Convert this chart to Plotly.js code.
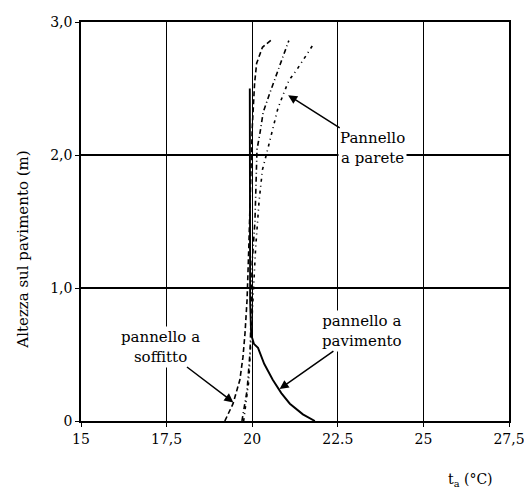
<!DOCTYPE html>
<html>
<head>
<meta charset="utf-8">
<script src="https://cdn.plot.ly/plotly-3.0.1.min.js"></script>
<style>html,body{margin:0;padding:0;background:#fff}#chart{width:524px;height:488px}</style>
</head>
<body>
<div id="chart"></div>
<script>
// Pannello a soffitto (dashed)
const soffittoT = [19.2, 19.44, 19.64, 19.73, 19.79, 19.85, 19.9, 19.95, 20.0, 20.07, 20.13, 20.3, 20.58];
const soffittoH = [0.0, 0.13, 0.31, 0.48, 0.66, 0.91, 1.3, 1.8, 2.2, 2.54, 2.69, 2.81, 2.87];
// Curva intermedia (dash-dot)
const mediaT = [19.7, 19.85, 19.94, 19.97, 20.0, 20.08, 20.14, 20.23, 20.32, 20.52, 20.72, 20.9, 21.07];
const mediaH = [0.0, 0.23, 0.53, 0.83, 1.2, 1.5, 2.04, 2.17, 2.32, 2.47, 2.62, 2.74, 2.86];
// Pannello a parete (dotted dash)
const pareteT = [19.75, 19.9, 20.0, 20.1, 20.2, 20.3, 20.46, 20.6, 20.75, 20.96, 21.07, 21.3, 21.54, 21.78];
const pareteH = [0.0, 0.3, 0.8, 1.3, 1.65, 1.89, 2.05, 2.19, 2.35, 2.49, 2.56, 2.64, 2.74, 2.83];
// Pannello a pavimento (solid)
const pavimentoT = [19.93, 19.93, 19.94, 19.97, 20.05, 20.17, 20.35, 20.6, 20.85, 21.1, 21.48, 21.83];
const pavimentoH = [2.5, 1.5, 0.9, 0.65, 0.58, 0.55, 0.43, 0.31, 0.21, 0.13, 0.05, 0.0];

const xTickVals = [15, 17.5, 20, 22.5, 25, 27.5];
const xTickText = ["15", "17,5", "20", "22.5", "25", "27,5"];
const yTickVals = [0, 1, 2, 3];
const yTickText = ["0", "1,0", "2,0", "3,0"];

const serif = "DejaVu Serif";

const traces = [
  {x: soffittoT, y: soffittoH, mode: 'lines', line: {color: '#000', width: 1.6, dash: '5px,3px'}},
  {x: mediaT, y: mediaH, mode: 'lines', line: {color: '#000', width: 1.6, dash: '5px,3px,1px,3px'}},
  {x: pareteT, y: pareteH, mode: 'lines', line: {color: '#000', width: 1.6, dash: '3px,4px,1px,4px'}},
  {x: pavimentoT, y: pavimentoH, mode: 'lines', line: {color: '#000', width: 1.9}}
];

const arrowStyle = {showarrow: true, arrowhead: 2, arrowsize: 1.2, arrowwidth: 1.5, arrowcolor: '#000',
  axref: 'x', ayref: 'y', bgcolor: '#fff', align: 'center', font: {family: serif, size: 15}};

const layout = {
  width: 524, height: 488,
  margin: {l: 81, r: 15, t: 22, b: 67},
  paper_bgcolor: '#fff', plot_bgcolor: '#fff',
  showlegend: false,
  font: {family: serif, color: '#000', size: 14},
  xaxis: {
    range: [15, 27.5], tickvals: xTickVals, ticktext: xTickText,
    showgrid: true, gridcolor: '#000', gridwidth: 1.2,
    showline: true, mirror: true, linecolor: '#000', linewidth: 1.8,
    ticks: 'outside', ticklen: 4, tickcolor: '#000', ticklabeloverflow: 'allow',
    zeroline: false, tickfont: {family: serif, size: 14}
  },
  yaxis: {
    range: [0, 3], tickvals: yTickVals, ticktext: yTickText,
    showgrid: true, gridcolor: '#000', gridwidth: 1.2,
    showline: true, mirror: true, linecolor: '#000', linewidth: 1.8,
    ticks: 'outside', ticklen: 4, tickcolor: '#000',
    zeroline: false, tickfont: {family: serif, size: 14}
  },
  annotations: [
    {xref: 'paper', yref: 'paper', x: -0.135, y: 0.43, text: 'Altezza sul pavimento (m)', textangle: -90,
     showarrow: false, font: {family: serif, size: 15}, xanchor: 'center', yanchor: 'middle'},
    {xref: 'paper', yref: 'paper', x: 0.909, y: -0.12, text: 't<sub>a</sub> (°C)', showarrow: false,
     font: {family: serif, size: 14}, xanchor: 'center', yanchor: 'top'},
    Object.assign({x: 21.05, y: 2.45, ax: 23.5, ay: 2.05, text: 'Pannello<br>a parete'}, arrowStyle),
    Object.assign({x: 19.45, y: 0.14, ax: 17.31, ay: 0.56, text: 'pannello a<br>soffitto'}, arrowStyle),
    Object.assign({x: 20.8, y: 0.24, ax: 23.22, ay: 0.68, text: 'pannello a<br>pavimento'}, arrowStyle)
  ]
};

Plotly.newPlot('chart', traces, layout, {staticPlot: true, displayModeBar: false});
</script>
</body>
</html>
